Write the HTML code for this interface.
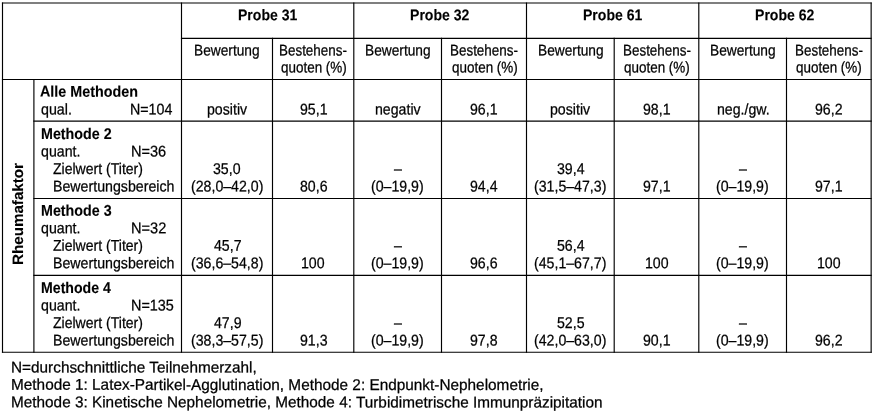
<!DOCTYPE html>
<html><head><meta charset="utf-8"><title>Rheumafaktor</title>
<style>
html,body{margin:0;padding:0;background:#fff}
body{width:874px;height:414px;position:relative;overflow:hidden;font-family:"Liberation Sans",sans-serif;color:#000}
.t{position:absolute;white-space:pre;-webkit-text-stroke:0.25px #000;line-height:20px;font-size:15.3px;transform-origin:0 15px}
.f{font-size:15.3px}
.b{font-weight:bold;-webkit-text-stroke-width:0.12px}
svg{position:absolute;left:0;top:0}
</style></head><body><div style="position:absolute;left:0;top:0;width:874px;height:414px;will-change:transform">
<svg width="874" height="414" viewBox="0 0 874 414"><g stroke="#000" stroke-width="1.15" stroke-linecap="square" fill="none">
<line x1="2.5" y1="3.0" x2="871.15" y2="3.0"/>
<line x1="181.5" y1="38.3" x2="871.15" y2="38.3"/>
<line x1="2.5" y1="79.5" x2="871.15" y2="79.5"/>
<line x1="33.9" y1="121.1" x2="871.15" y2="121.1"/>
<line x1="33.9" y1="198.5" x2="871.15" y2="198.5"/>
<line x1="33.9" y1="275.3" x2="871.15" y2="275.3"/>
<line x1="2.5" y1="352.2" x2="871.15" y2="352.2"/>
<line x1="2.5" y1="3.0" x2="2.5" y2="352.2"/>
<line x1="33.9" y1="79.5" x2="33.9" y2="352.2"/>
<line x1="181.5" y1="3.0" x2="181.5" y2="352.2"/>
<line x1="272.5" y1="38.3" x2="272.5" y2="352.2"/>
<line x1="353.8" y1="3.0" x2="353.8" y2="352.2"/>
<line x1="441.5" y1="38.3" x2="441.5" y2="352.2"/>
<line x1="526.5" y1="3.0" x2="526.5" y2="352.2"/>
<line x1="614.2" y1="38.3" x2="614.2" y2="352.2"/>
<line x1="698.8" y1="3.0" x2="698.8" y2="352.2"/>
<line x1="786.5" y1="38.3" x2="786.5" y2="352.2"/>
<line x1="871.15" y1="3.0" x2="871.15" y2="352.2"/>
</g></svg>
<div class="t b" style="left:237.77px;top:5px;transform:matrix(0.9177,0.0006,0,1.015,0,0.18)">Probe 31</div>
<div class="t" style="left:194.38px;top:40px;transform:matrix(0.8976,0.0006,0,1.015,0,0.48)">Bewertung</div>
<div class="t" style="left:279.25px;top:40px;transform:matrix(0.8778,0.0006,0,1.015,0,0.48)">Bestehens-</div>
<div class="t" style="left:280.79px;top:57px;transform:matrix(0.8787,0.0006,0,1.015,0,0.58)">quoten (%)</div>
<div class="t b" style="left:410.27px;top:5px;transform:matrix(0.9192,0.0006,0,1.015,0,0.18)">Probe 32</div>
<div class="t" style="left:365.03px;top:40px;transform:matrix(0.8976,0.0006,0,1.015,0,0.48)">Bewertung</div>
<div class="t" style="left:450.10px;top:40px;transform:matrix(0.8778,0.0006,0,1.015,0,0.48)">Bestehens-</div>
<div class="t" style="left:451.64px;top:57px;transform:matrix(0.8787,0.0006,0,1.015,0,0.58)">quoten (%)</div>
<div class="t b" style="left:582.77px;top:5px;transform:matrix(0.9177,0.0006,0,1.015,0,0.18)">Probe 61</div>
<div class="t" style="left:537.73px;top:40px;transform:matrix(0.8976,0.0006,0,1.015,0,0.48)">Bewertung</div>
<div class="t" style="left:622.60px;top:40px;transform:matrix(0.8778,0.0006,0,1.015,0,0.48)">Bestehens-</div>
<div class="t" style="left:624.14px;top:57px;transform:matrix(0.8787,0.0006,0,1.015,0,0.58)">quoten (%)</div>
<div class="t b" style="left:755.09px;top:5px;transform:matrix(0.9192,0.0006,0,1.015,0,0.18)">Probe 62</div>
<div class="t" style="left:710.03px;top:40px;transform:matrix(0.8976,0.0006,0,1.015,0,0.48)">Bewertung</div>
<div class="t" style="left:794.93px;top:40px;transform:matrix(0.8778,0.0006,0,1.015,0,0.48)">Bestehens-</div>
<div class="t" style="left:796.47px;top:57px;transform:matrix(0.8787,0.0006,0,1.015,0,0.58)">quoten (%)</div>
<div class="t b" style="left:40.24px;top:81px;transform:matrix(0.9369,0.0006,0,1.015,0,0.62)">Alle Methoden</div>
<div class="t" style="left:40.65px;top:99px;transform:matrix(0.9329,0.0006,0,1.015,0,0.59)">qual.</div>
<div class="t" style="left:130.10px;top:99px;transform:matrix(0.9311,0.0006,0,1.015,0,0.59)">N=104</div>
<div class="t b" style="left:40.65px;top:123px;transform:matrix(0.9332,0.0006,0,1.015,0,0.88)">Methode 2</div>
<div class="t" style="left:40.76px;top:141px;transform:matrix(0.9272,0.0006,0,1.015,0,0.49)">quant.</div>
<div class="t" style="left:131.08px;top:141px;transform:matrix(0.9512,0.0006,0,1.015,0,0.49)">N=36</div>
<div class="t" style="left:53.04px;top:159px;transform:matrix(0.9179,0.0006,0,1.015,0,-0.03)">Zielwert (Titer)</div>
<div class="t" style="left:53.40px;top:176px;transform:matrix(0.9279,0.0006,0,1.015,0,0.46)">Bewertungsbereich</div>
<div class="t b" style="left:40.65px;top:200px;transform:matrix(0.9330,0.0006,0,1.015,0,0.68)">Methode 3</div>
<div class="t" style="left:40.76px;top:218px;transform:matrix(0.9272,0.0006,0,1.015,0,0.29)">quant.</div>
<div class="t" style="left:131.08px;top:218px;transform:matrix(0.9528,0.0006,0,1.015,0,0.29)">N=32</div>
<div class="t" style="left:53.04px;top:235px;transform:matrix(0.9179,0.0006,0,1.015,0,0.77)">Zielwert (Titer)</div>
<div class="t" style="left:53.40px;top:253px;transform:matrix(0.9279,0.0006,0,1.015,0,0.26)">Bewertungsbereich</div>
<div class="t b" style="left:40.66px;top:277px;transform:matrix(0.9237,0.0006,0,1.015,0,0.88)">Methode 4</div>
<div class="t" style="left:40.76px;top:295px;transform:matrix(0.9272,0.0006,0,1.015,0,0.49)">quant.</div>
<div class="t" style="left:131.09px;top:295px;transform:matrix(0.9425,0.0006,0,1.015,0,0.49)">N=135</div>
<div class="t" style="left:53.04px;top:313px;transform:matrix(0.9179,0.0006,0,1.015,0,-0.03)">Zielwert (Titer)</div>
<div class="t" style="left:53.40px;top:330px;transform:matrix(0.9279,0.0006,0,1.015,0,0.46)">Bewertungsbereich</div>
<div class="t" style="left:206.76px;top:99px;transform:matrix(0.9250,0.0006,0,1.015,0,0.59)">positiv</div>
<div class="t" style="left:299.50px;top:99px;transform:matrix(0.9250,0.0006,0,1.015,0,0.59)">95,1</div>
<div class="t" style="left:374.63px;top:99px;transform:matrix(0.9250,0.0006,0,1.015,0,0.59)">negativ</div>
<div class="t" style="left:470.35px;top:99px;transform:matrix(0.9250,0.0006,0,1.015,0,0.59)">96,1</div>
<div class="t" style="left:550.11px;top:99px;transform:matrix(0.9250,0.0006,0,1.015,0,0.59)">positiv</div>
<div class="t" style="left:642.85px;top:99px;transform:matrix(0.9250,0.0006,0,1.015,0,0.59)">98,1</div>
<div class="t" style="left:716.68px;top:99px;transform:matrix(0.9250,0.0006,0,1.015,0,0.58)">neg./gw.</div>
<div class="t" style="left:815.19px;top:99px;transform:matrix(0.9250,0.0006,0,1.015,0,0.59)">96,2</div>
<div class="t" style="left:213.33px;top:159px;transform:matrix(0.9250,0.0006,0,1.015,0,-0.01)">35,0</div>
<div class="t" style="left:190.97px;top:176px;transform:matrix(0.9250,0.0006,0,1.015,0,0.48)">(28,0–42,0)</div>
<div class="t" style="left:299.51px;top:176px;transform:matrix(0.9250,0.0006,0,1.015,0,0.49)">80,6</div>
<div class="t" style="left:393.93px;top:159px;transform:matrix(0.9250,0.0006,0,1.015,0,-0.00)">–</div>
<div class="t" style="left:371.43px;top:176px;transform:matrix(0.9250,0.0006,0,1.015,0,0.48)">(0–19,9)</div>
<div class="t" style="left:470.24px;top:176px;transform:matrix(0.9250,0.0006,0,1.015,0,0.49)">94,4</div>
<div class="t" style="left:556.60px;top:159px;transform:matrix(0.9250,0.0006,0,1.015,0,-0.01)">39,4</div>
<div class="t" style="left:534.32px;top:176px;transform:matrix(0.9250,0.0006,0,1.015,0,0.48)">(31,5–47,3)</div>
<div class="t" style="left:642.85px;top:176px;transform:matrix(0.9250,0.0006,0,1.015,0,0.49)">97,1</div>
<div class="t" style="left:738.93px;top:159px;transform:matrix(0.9250,0.0006,0,1.015,0,-0.00)">–</div>
<div class="t" style="left:716.43px;top:176px;transform:matrix(0.9250,0.0006,0,1.015,0,0.48)">(0–19,9)</div>
<div class="t" style="left:815.18px;top:176px;transform:matrix(0.9250,0.0006,0,1.015,0,0.49)">97,1</div>
<div class="t" style="left:213.54px;top:235px;transform:matrix(0.9250,0.0006,0,1.015,0,0.79)">45,7</div>
<div class="t" style="left:190.97px;top:253px;transform:matrix(0.9250,0.0006,0,1.015,0,0.28)">(36,6–54,8)</div>
<div class="t" style="left:301.30px;top:253px;transform:matrix(0.9250,0.0006,0,1.015,0,0.29)">100</div>
<div class="t" style="left:393.93px;top:235px;transform:matrix(0.9250,0.0006,0,1.015,0,0.80)">–</div>
<div class="t" style="left:371.43px;top:253px;transform:matrix(0.9250,0.0006,0,1.015,0,0.28)">(0–19,9)</div>
<div class="t" style="left:470.33px;top:253px;transform:matrix(0.9250,0.0006,0,1.015,0,0.29)">96,6</div>
<div class="t" style="left:556.56px;top:235px;transform:matrix(0.9250,0.0006,0,1.015,0,0.79)">56,4</div>
<div class="t" style="left:534.32px;top:253px;transform:matrix(0.9250,0.0006,0,1.015,0,0.28)">(45,1–67,7)</div>
<div class="t" style="left:644.65px;top:253px;transform:matrix(0.9250,0.0006,0,1.015,0,0.29)">100</div>
<div class="t" style="left:738.93px;top:235px;transform:matrix(0.9250,0.0006,0,1.015,0,0.80)">–</div>
<div class="t" style="left:716.43px;top:253px;transform:matrix(0.9250,0.0006,0,1.015,0,0.28)">(0–19,9)</div>
<div class="t" style="left:816.98px;top:253px;transform:matrix(0.9250,0.0006,0,1.015,0,0.29)">100</div>
<div class="t" style="left:213.53px;top:313px;transform:matrix(0.9250,0.0006,0,1.015,0,-0.01)">47,9</div>
<div class="t" style="left:190.97px;top:330px;transform:matrix(0.9250,0.0006,0,1.015,0,0.48)">(38,3–57,5)</div>
<div class="t" style="left:299.50px;top:330px;transform:matrix(0.9250,0.0006,0,1.015,0,0.49)">91,3</div>
<div class="t" style="left:393.93px;top:313px;transform:matrix(0.9250,0.0006,0,1.015,0,-0.00)">–</div>
<div class="t" style="left:371.43px;top:330px;transform:matrix(0.9250,0.0006,0,1.015,0,0.48)">(0–19,9)</div>
<div class="t" style="left:470.34px;top:330px;transform:matrix(0.9250,0.0006,0,1.015,0,0.49)">97,8</div>
<div class="t" style="left:556.65px;top:313px;transform:matrix(0.9250,0.0006,0,1.015,0,-0.01)">52,5</div>
<div class="t" style="left:534.32px;top:330px;transform:matrix(0.9250,0.0006,0,1.015,0,0.48)">(42,0–63,0)</div>
<div class="t" style="left:642.85px;top:330px;transform:matrix(0.9250,0.0006,0,1.015,0,0.49)">90,1</div>
<div class="t" style="left:738.93px;top:313px;transform:matrix(0.9250,0.0006,0,1.015,0,-0.00)">–</div>
<div class="t" style="left:716.43px;top:330px;transform:matrix(0.9250,0.0006,0,1.015,0,0.48)">(0–19,9)</div>
<div class="t" style="left:815.19px;top:330px;transform:matrix(0.9250,0.0006,0,1.015,0,0.49)">96,2</div>
<div class="t" style="left:11.23px;top:357px;transform:matrix(1.0030,0.0006,0,1.015,0,0.48)">N=durchschnittliche Teilnehmerzahl,</div>
<div class="t" style="left:11.23px;top:374px;transform:matrix(1.0036,0.0006,0,1.015,0,0.79)">Methode 1: Latex-Partikel-Agglutination, Methode 2: Endpunkt-Nephelometrie,</div>
<div class="t" style="left:11.23px;top:392px;transform:matrix(1.0024,0.0006,0,1.015,0,0.17)">Methode 3: Kinetische Nephelometrie, Methode 4: Turbidimetrische Immunpräzipitation</div>
<div class="t b" style="left:23.20px;top:250.20px;transform-origin:0 15px;transform:rotate(-90.03deg) scale(0.9917,0.98)">Rheumafaktor</div>
</div></body></html>
